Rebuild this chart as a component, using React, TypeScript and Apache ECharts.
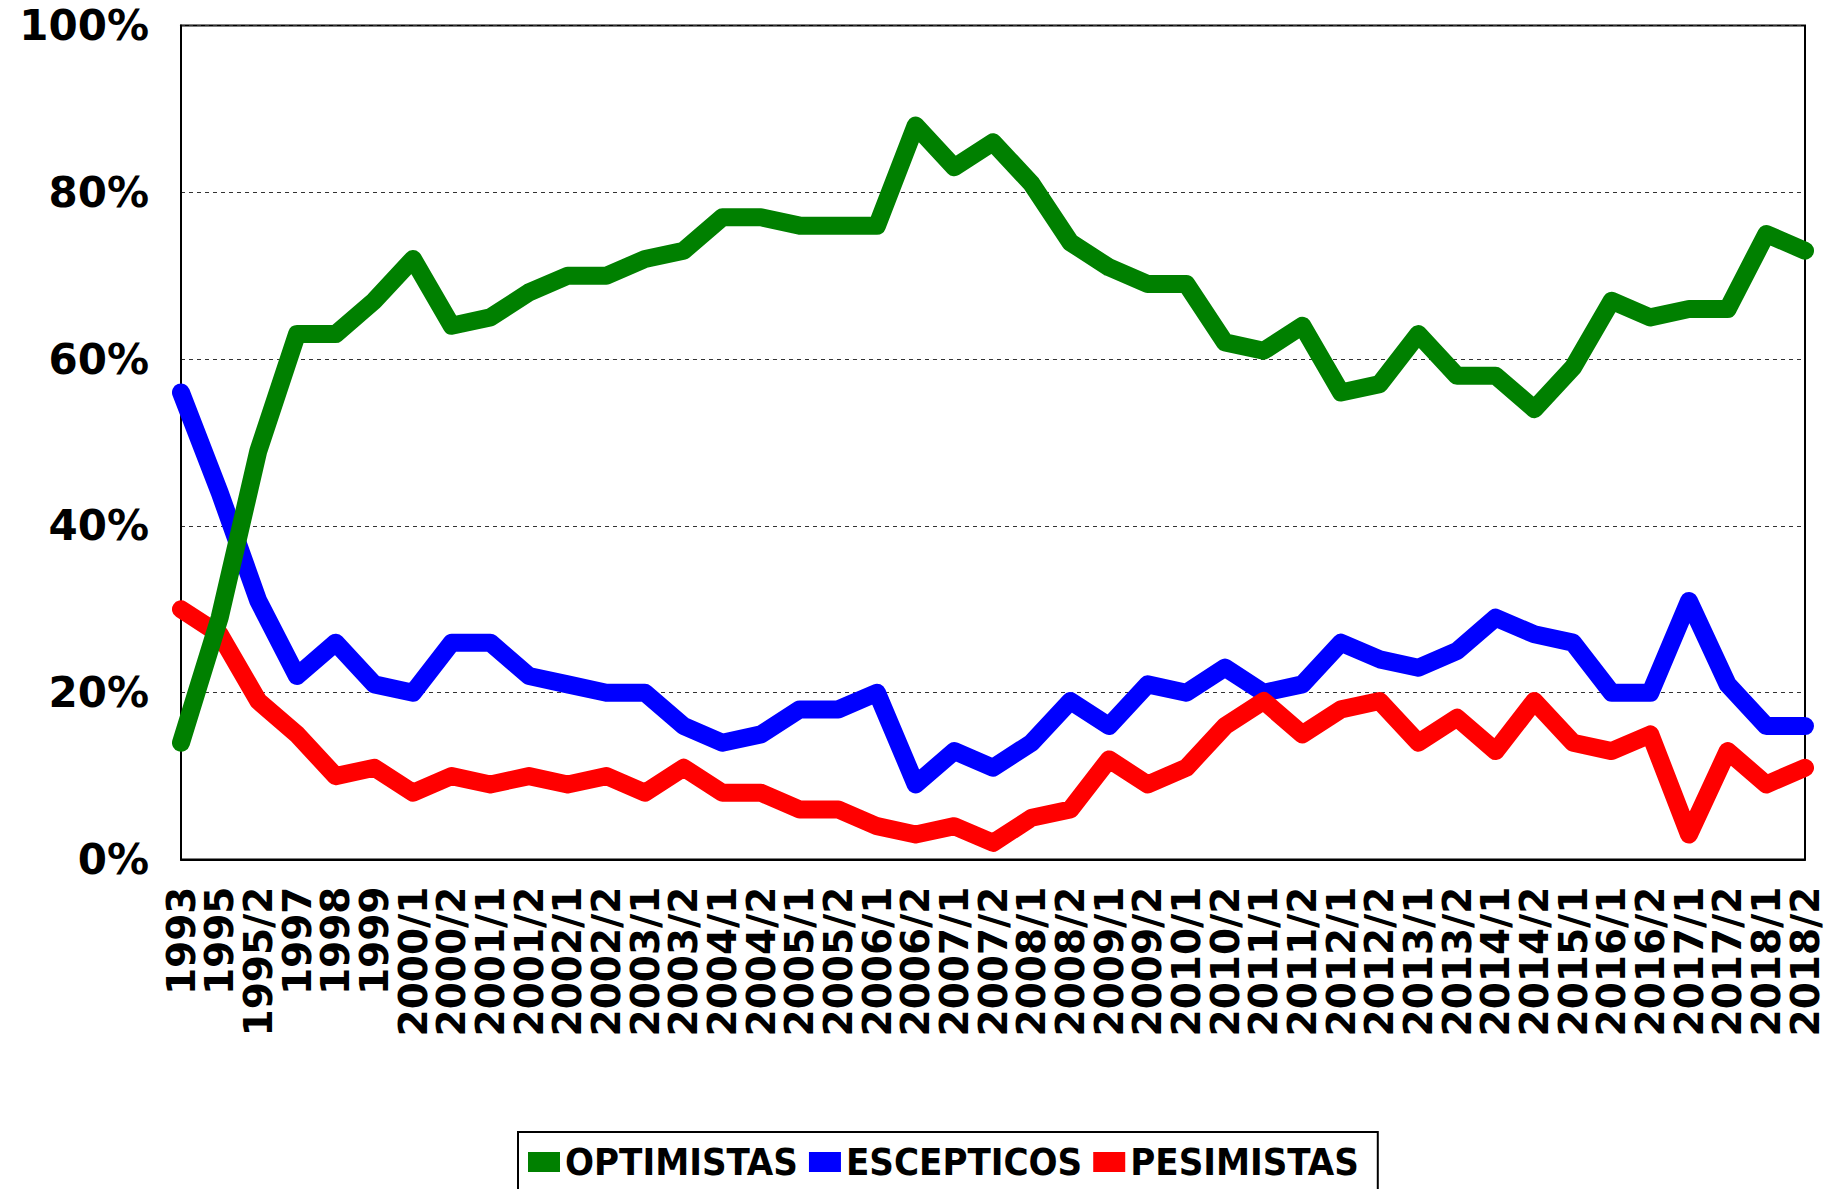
import React, { useEffect, useRef } from "react";
import * as echarts from "echarts";

const categories = [
  "1993", "1995", "1995/2", "1997", "1998", "1999", "2000/1", "2000/2", "2001/1", "2001/2",
  "2002/1", "2002/2", "2003/1", "2003/2", "2004/1", "2004/2", "2005/1", "2005/2", "2006/1", "2006/2",
  "2007/1", "2007/2", "2008/1", "2008/2", "2009/1", "2009/2", "2010/1", "2010/2", "2011/1", "2011/2",
  "2012/1", "2012/2", "2013/1", "2013/2", "2014/1", "2014/2", "2015/1", "2016/1", "2016/2", "2017/1",
  "2017/2", "2018/1", "2018/2",
];

const optimistas = [
  14, 29, 49, 63, 63, 67, 72, 64, 65, 68,
  70, 70, 72, 73, 77, 77, 76, 76, 76, 88,
  83, 86, 81, 74, 71, 69, 69, 62, 61, 64,
  56, 57, 63, 58, 58, 54, 59, 67, 65, 66,
  66, 75, 73,
];

const escepticos = [
  56, 44, 31, 22, 26, 21, 20, 26, 26, 22,
  21, 20, 20, 16, 14, 15, 18, 18, 20, 9,
  13, 11, 14, 19, 16, 21, 20, 23, 20, 21,
  26, 24, 23, 25, 29, 27, 26, 20, 20, 31,
  21, 16, 16,
];

const pesimistas = [
  30, 27, 19, 15, 10, 11, 8, 10, 9, 10,
  9, 10, 8, 11, 8, 8, 6, 6, 4, 3,
  4, 2, 5, 6, 12, 9, 11, 16, 19, 15,
  18, 19, 14, 17, 13, 19, 14, 13, 15, 3,
  13, 9, 11,
];

const yTicks = [0, 20, 40, 60, 80, 100];

const seriesNames = ["OPTIMISTAS", "ESCEPTICOS", "PESIMISTAS"];
const seriesColors = ["#008000", "#0000FF", "#FF0000"];

export default function App() {
  const ref = useRef<HTMLDivElement>(null);

  useEffect(() => {
    if (!ref.current) return;
    const chart = echarts.init(ref.current, null, { renderer: "svg" });
    const dataSets = [optimistas, escepticos, pesimistas];
    const zs = [5, 3, 4];
    chart.setOption({
      animation: false,
      backgroundColor: "#ffffff",
      grid: {
        left: 181,
        right: 33,
        top: 25.5,
        bottom: 329.5,
        show: true,
        borderColor: "#000",
        borderWidth: 2,
        backgroundColor: "transparent",
        containLabel: false,
      },
      legend: {
        data: seriesNames,
        left: 518,
        top: 1132,
        orient: "horizontal",
        icon: "rect",
        itemWidth: 32,
        itemHeight: 20,
        itemGap: 11,
        padding: [9, 19, 40, 10],
        borderColor: "#000",
        borderWidth: 2,
        textStyle: {
          fontFamily: '"DejaVu Sans Condensed", "DejaVu Sans", sans-serif',
          fontWeight: "bold",
          fontSize: 38,
          lineHeight: 42,
          color: "#000",
        },
      },
      xAxis: {
        type: "category",
        data: categories,
        boundaryGap: false,
        axisLine: { show: true, lineStyle: { color: "#000", width: 2 } },
        axisTick: { show: false },
        splitLine: { show: false },
        axisLabel: {
          interval: 0,
          rotate: 90,
          margin: 27,
          fontFamily: '"DejaVu Sans", sans-serif',
          fontWeight: "bold",
          fontSize: 39,
          color: "#000",
        },
      },
      yAxis: {
        type: "value",
        min: yTicks[0],
        max: yTicks[yTicks.length - 1],
        interval: 20,
        axisLine: { show: true, lineStyle: { color: "#000", width: 2 } },
        axisTick: { show: false },
        splitLine: {
          show: true,
          lineStyle: { color: "#333", width: 1, type: [4, 4] },
        },
        axisLabel: {
          margin: 32,
          formatter: "{value}%",
          fontFamily: '"DejaVu Sans", sans-serif',
          fontWeight: "bold",
          fontSize: 42,
          color: "#000",
        },
      },
      series: seriesNames.map((name, k) => ({
        name,
        type: "line",
        data: dataSets[k],
        z: zs[k],
        color: seriesColors[k],
        symbol: "none",
        showSymbol: false,
        smooth: false,
        itemStyle: { color: seriesColors[k] },
        lineStyle: { color: seriesColors[k], width: 18, join: "round", cap: "round" },
      })),
    });
    return () => chart.dispose();
  }, []);

  return (
    <div
      ref={ref}
      style={{ position: "absolute", left: 0, top: 0, width: 1838, height: 1189 }}
    />
  );
}
